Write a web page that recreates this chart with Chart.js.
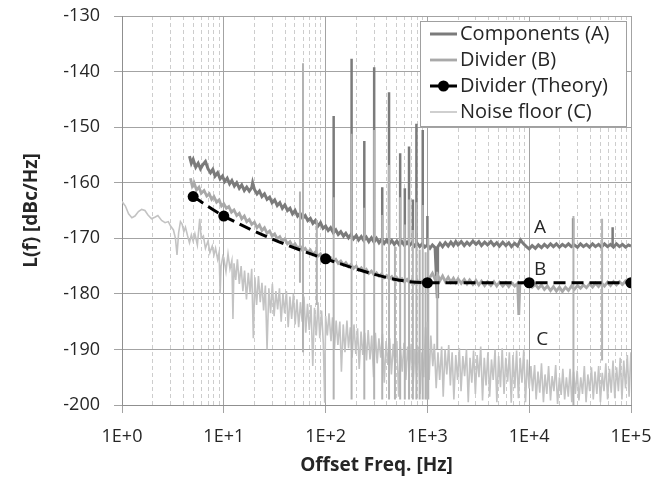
<!DOCTYPE html>
<html>
<head>
<meta charset="utf-8">
<script src="https://cdn.jsdelivr.net/npm/chart.js@4.4.1/dist/chart.umd.min.js"></script>
<style>
    body { margin: 0; background: #ffffff; }
    #wrap { width: 660px; height: 478px; }
</style>
</head>
<body>
<div id="wrap"><canvas id="bruitChart" width="660" height="478"></canvas></div>
<script>
// Graduations de l'axe des fréquences (décades)
const xDecades = [1, 10, 100, 1000, 10000, 100000];
const xTickLabels = ['1E+0', '1E+1', '1E+2', '1E+3', '1E+4', '1E+5'];
const minorSteps = [1, 2, 3, 4, 5, 6, 7, 8, 9];

// Components (A)
const freqA = [4.6, 4.8, 5.0, 5.3, 5.6, 5.9, 6.2, 6.6, 7.0, 7.4,
    7.8, 8.2, 8.7, 9.2, 9.7, 10.2, 10.8, 11.4, 12.0, 12.7,
    13.4, 14.2, 15.0, 15.9, 16.8, 17.8, 18.8, 19.2, 20.0, 21.2,
    22.4, 23.7, 25.1, 26.6, 28.2, 29.8, 31.6, 33.5, 35.5, 37.6,
    39.8, 42.2, 44.7, 47.3, 50.1, 53.1, 56.2, 59.6, 63.1, 66.8,
    70.8, 75.0, 79.4, 84.1, 89.1, 94.4, 100, 106, 112, 119,
    126, 133, 141, 150, 158, 168, 178, 188, 200, 211,
    224, 237, 251, 266, 282, 299, 316, 335, 355, 376,
    398, 422, 447, 473, 501, 531, 562, 596, 631, 668,
    708, 750, 794, 841, 891, 944, 1000, 1060, 1120, 1190,
    1250, 1260, 1330, 1410, 1500, 1600, 1700, 1800, 1900, 2000,
    2150, 2300, 2450, 2600, 2800, 3000, 3200, 3400, 3650, 3900,
    4200, 4500, 4800, 5100, 5500, 5900, 6300, 6700, 7200, 7700,
    8200, 8800, 9400, 10000, 10700, 11500, 12300, 13200, 14100, 15100,
    16200, 17300, 18500, 19800, 21200, 22700, 24300, 26000, 27800, 29800,
    31900, 34100, 36500, 39100, 41900, 44800, 48000, 51300, 54900, 58800,
    62900, 67300, 72000, 77100, 82500, 88300, 94500, 100000];
const levelA = [-155.2, -156.5, -155.8, -157.2, -156.5, -157.5, -156.8, -156.2, -157.5, -158.2,
    -157.6, -158.8, -158.2, -159.3, -158.8, -159.8, -159.2, -160.2, -159.6, -160.6,
    -160.0, -161.0, -160.4, -161.4, -160.8, -161.5, -160.9, -160.0, -161.2, -162.0,
    -161.5, -162.5, -162.0, -163.0, -162.6, -163.6, -163.1, -164.1, -163.6, -164.6,
    -164.0, -165.0, -164.6, -165.6, -165.0, -166.0, -165.5, -166.4, -165.9, -166.8,
    -166.4, -167.3, -166.8, -167.8, -167.2, -168.2, -167.8, -168.6, -168.1, -169.0,
    -168.5, -169.3, -168.8, -169.6, -169.1, -169.9, -169.3, -170.1, -169.5, -170.3,
    -169.7, -170.4, -169.8, -170.6, -169.9, -170.7, -170.0, -170.8, -170.2, -170.9,
    -170.3, -171.0, -170.4, -171.1, -170.5, -171.2, -170.6, -171.3, -170.7, -171.3,
    -170.8, -171.4, -170.9, -171.5, -171.0, -171.6, -171.2, -171.8, -171.2, -171.7,
    -180.5, -171.6, -170.9, -171.5, -170.8, -171.4, -170.7, -171.3, -170.6, -171.2,
    -170.6, -171.3, -170.7, -171.2, -170.5, -171.1, -170.6, -171.3, -170.7, -171.2,
    -170.6, -171.3, -170.8, -171.4, -170.7, -171.3, -170.8, -171.5, -170.9, -171.4,
    -170.3, -171.0, -171.5, -171.9, -171.3, -171.8, -171.2, -171.7, -171.1, -171.6,
    -171.0, -171.5, -171.0, -171.6, -171.1, -171.5, -171.0, -171.5, -171.2, -171.6,
    -171.0, -171.5, -171.1, -171.6, -171.0, -171.5, -171.1, -171.6, -171.0, -171.5,
    -171.1, -171.6, -171.0, -171.5, -171.1, -171.6, -171.2, -171.4];

// Raies secteur de la courbe A (fréquence, sommet, pied)
const spikeFreqA = [120, 180, 240, 300, 360, 420, 540, 600, 660, 720, 780, 900, 1000, 27000, 66000];
const spikeTopA = [-148, -137.7, -152.5, -139.2, -160.8, -143.7, -154.7, -161, -153.5, -163, -149.4, -150.5, -166, -166.4, -168];
const spikeFootA = [-169.2, -169.4, -169.8, -170.4, -170.3, -170.6, -170.8, -170.9, -171, -171, -171, -171.2, -171.4, -171.3, -171.4];

// Divider (B)
const freqB = [4.7, 4.9, 5.1, 5.4, 5.7, 6.0, 6.4, 6.8, 7.2, 7.6,
    8.0, 8.5, 9.0, 9.5, 10.0, 10.6, 11.2, 11.9, 12.6, 13.4,
    14.2, 15.0, 15.9, 16.8, 17.8, 18.8, 20.0, 21.2, 22.4, 23.7,
    25.1, 26.6, 28.2, 29.8, 31.6, 33.5, 35.5, 37.6, 39.8, 42.2,
    44.7, 47.3, 50.1, 53.1, 56.2, 59.6, 63.1, 66.8, 70.8, 75.0,
    79.4, 84.1, 89.1, 94.4, 100, 106, 112, 119, 126, 133,
    141, 150, 158, 168, 178, 188, 200, 211, 224, 237,
    251, 266, 282, 299, 316, 335, 355, 376, 398, 422,
    447, 473, 501, 531, 562, 596, 631, 668, 708, 750,
    794, 841, 891, 944, 1000, 1060, 1120, 1190, 1260, 1330,
    1410, 1500, 1600, 1700, 1800, 1900, 2000, 2150, 2300, 2450,
    2600, 2800, 3000, 3200, 3400, 3650, 3900, 4200, 4500, 4800,
    5100, 5500, 5900, 6300, 6700, 7200, 7700, 7900, 8100, 8800,
    9400, 10000, 10700, 11500, 12300, 13200, 14100, 15100, 16200, 17300,
    18500, 19800, 21200, 22700, 24300, 26000, 27800, 29800, 31900, 34100,
    36500, 39100, 41900, 44800, 48000, 51300, 54900, 58800, 62900, 67300,
    72000, 77100, 82500, 88300, 94500, 100000];
const levelB = [-159.2, -160.6, -160.0, -161.3, -160.8, -161.9, -161.4, -162.4, -162.0, -163.0,
    -162.5, -163.5, -163.1, -164.2, -163.8, -164.6, -164.3, -165.3, -164.9, -165.9,
    -165.5, -166.5, -166.0, -167.0, -166.6, -167.5, -167.1, -168.1, -167.6, -168.6,
    -168.1, -169.1, -168.7, -169.6, -169.2, -170.1, -169.7, -170.6, -170.1, -171.0,
    -170.6, -171.4, -171.0, -171.8, -171.4, -172.2, -171.8, -172.5, -172.1, -172.9,
    -172.5, -173.2, -172.8, -173.6, -173.2, -173.9, -173.5, -174.2, -173.8, -174.5,
    -174.1, -174.8, -174.4, -175.1, -174.7, -175.4, -175.0, -175.7, -175.3, -176.0,
    -175.6, -176.3, -175.9, -176.6, -176.2, -176.8, -176.4, -177.1, -176.7, -177.3,
    -176.9, -177.5, -177.1, -177.7, -177.3, -177.9, -177.4, -178.0, -177.5, -178.1,
    -177.6, -178.2, -177.7, -178.3, -177.8, -177.0, -176.3, -177.4, -176.6, -177.6,
    -176.8, -177.8, -177.0, -177.9, -177.2, -178.0, -177.3, -178.1, -177.4, -178.2,
    -177.5, -178.3, -177.6, -178.4, -177.7, -178.5, -177.8, -178.5, -177.8, -178.6,
    -177.9, -178.6, -178.0, -178.7, -178.0, -178.6, -178.1, -183.8, -178.2, -177.9,
    -178.5, -178.1, -178.8, -178.3, -179.0, -178.4, -179.2, -178.6, -179.4, -178.7,
    -179.5, -178.8, -179.6, -178.8, -179.4, -178.6, -179.2, -178.5, -179.0, -178.4,
    -178.9, -178.2, -178.8, -178.1, -178.7, -178.0, -178.6, -177.9, -178.5, -177.8,
    -178.4, -177.8, -178.3, -177.7, -178.2, -177.8];

// Raies claires (B et plancher) : fréquence, sommet, pied
const spikeFreqB = [56, 60, 82, 120, 180, 240, 300, 360, 420, 480, 540, 600, 660, 720, 780, 840, 900, 960, 1020, 1250, 27200, 52000];
const spikeTopB = [-161.6, -138.5, -166.7, -162.6, -151.2, -164.5, -150.5, -165.8, -156.8, -171.5, -162.6, -167.5, -163.0, -168.5, -163.5, -172.0, -164.0, -172.5, -170.0, -176.0, -166.0, -166.5];
const spikeFootB = [-178, -190.5, -182, -199, -199, -199, -199, -199, -199, -199, -199, -199, -199, -199, -199, -199, -199, -199, -199, -190, -200, -192];

// Divider (Theory)
const freqTheory = [5, 10, 100, 1000, 10000, 100000];
const levelTheory = [-162.5, -166, -173.7, -178, -178, -178];

// Noise floor (C)
const freqC = [1.00, 1.08, 1.16, 1.25, 1.34, 1.45, 1.56, 1.68, 1.80, 1.95,
    2.10, 2.25, 2.45, 2.65, 2.85, 3.00, 3.20, 3.35, 3.47, 3.60,
    3.75, 3.90, 4.05, 4.20, 4.40, 4.60, 4.80, 5.00, 5.20, 5.50,
    5.80, 6.00, 6.30, 6.60, 7.00, 7.30, 7.70, 8.00, 8.30, 8.70,
    9.00, 9.20, 9.40, 9.80,
    10.0, 10.5, 11.0, 11.5, 12.0, 12.3, 12.6, 13.1, 13.6, 14.2,
    14.8, 15.4, 16.0, 16.7, 17.4, 18.1, 18.8, 19.5, 20.2, 21.0,
    21.9, 22.8, 23.7, 24.6, 25.6, 26.6, 27.7, 28.8, 30.0, 31.2,
    32.5, 33.8, 35.2, 36.6, 38.1, 39.6, 41.2, 42.9, 44.6, 46.4,
    48.3, 50.2, 52.3, 54.4, 56.6, 58.9, 61.3, 63.8, 66.4, 69.1,
    71.9, 74.8, 77.8, 81.0, 84.3, 87.7, 91.3, 95.0, 98.0, 100,
    104, 108, 113, 117, 122, 127, 132, 138, 143, 149,
    155, 162, 168, 175, 182, 190, 198, 206, 214, 223,
    232, 242, 252, 262, 273, 284, 296, 308, 321, 334,
    348, 362, 377, 393, 409, 426, 443, 462, 481, 501,
    522, 543, 566, 589, 614, 639, 666, 693, 722, 752,
    783, 815, 849, 884, 920, 958, 990, 1000,
    1040, 1080, 1130, 1170, 1220, 1270, 1320, 1380, 1430, 1490,
    1550, 1620, 1680, 1750, 1820, 1900, 1980, 2060, 2140, 2230,
    2320, 2420, 2520, 2620, 2730, 2840, 2960, 3080, 3210, 3340,
    3480, 3620, 3770, 3930, 4090, 4260, 4430, 4620, 4810, 5010,
    5220, 5430, 5660, 5890, 6140, 6390, 6660, 6930, 7220, 7520,
    7830, 8150, 8490, 8840, 9200, 9580, 9980,
    10400, 10800, 11300, 11700, 12200, 12700, 13200, 13800, 14300, 14900,
    15500, 16200, 16800, 17500, 18200, 19000, 19800, 20600, 21400, 22300,
    23200, 24200, 25200, 26200, 27300, 28400, 29600, 30800, 32100, 33400,
    34800, 36200, 37700, 39300, 40900, 42600, 44300, 46200, 48100, 50100,
    52200, 54300, 56600, 58900, 61400, 63900, 66600, 69300, 72200, 75200,
    78300, 81500, 84900, 88400, 92000, 95800, 99800];
const levelC = [-163.4, -164.2, -165.6, -166.3, -166.0, -165.2, -164.8, -165.0, -165.8, -166.5,
    -166.2, -165.9, -166.8, -167.2, -167.0, -167.8, -168.5, -170.0, -173.0, -169.0,
    -167.0, -167.5, -168.8, -168.0, -169.5, -170.8, -169.4, -170.5, -169.2, -171.2,
    -166.5, -170.0, -169.6, -171.8, -170.5, -172.6, -171.4, -173.0, -171.8, -173.8,
    -172.5, -180.0, -175.0, -173.2,
    -173.5, -176.0, -172.8, -175.5, -174.0, -184.5, -174.5, -177.5, -173.8, -178.2,
    -175.0, -179.5, -175.8, -181.0, -176.2, -179.8, -175.5, -188.0, -177.0, -182.0,
    -176.8, -181.5, -178.0, -183.0, -178.5, -190.0, -179.0, -183.5, -178.2, -184.0,
    -179.5, -182.8, -179.0, -185.0, -180.0, -183.5, -179.5, -186.0, -180.5, -184.5,
    -180.0, -185.5, -181.0, -186.0, -181.5, -185.0, -180.5, -187.0, -181.8, -186.5,
    -182.0, -193.0, -182.5, -187.5, -181.5, -188.0, -183.0, -189.0, -199.6, -184.0,
    -187.5, -183.5, -188.5, -184.2, -190.0, -184.8, -189.2, -185.0, -194.0, -185.5,
    -190.5, -184.8, -189.8, -186.0, -191.5, -185.5, -190.8, -186.2, -193.5, -186.8,
    -191.0, -187.0, -192.0, -186.5, -191.8, -187.5, -195.0, -187.0, -192.5, -188.0,
    -191.5, -187.2, -196.0, -188.5, -192.8, -188.0, -194.5, -189.0, -193.0, -188.5,
    -198.5, -189.5, -194.0, -188.8, -195.5, -189.5, -193.8, -189.0, -197.0, -190.0,
    -194.5, -189.5, -198.0, -190.5, -195.0, -186.0, -199.0, -185.0,
    -195.5, -187.5, -193.0, -189.0, -197.0, -190.5, -195.5, -189.5, -198.5, -190.0,
    -194.5, -189.2, -196.5, -190.5, -199.0, -191.0, -195.5, -189.8, -197.5, -191.2,
    -194.8, -190.0, -199.5, -191.5, -196.0, -190.2, -198.0, -191.0, -195.0, -189.5,
    -199.2, -191.5, -196.5, -190.5, -198.5, -191.8, -195.5, -190.0, -199.5, -191.2,
    -196.8, -189.8, -198.0, -191.5, -195.8, -190.5, -199.6, -191.0, -197.0, -190.2,
    -198.8, -191.5, -196.0, -190.0, -199.5, -191.8, -197.0,
    -193.0, -197.5, -192.8, -199.0, -194.0, -197.8, -192.5, -199.5, -194.5, -198.0,
    -193.0, -199.2, -194.8, -197.5, -192.8, -199.8, -195.0, -198.2, -193.5, -199.0,
    -195.0, -198.5, -193.5, -199.5, -194.0, -198.0, -193.8, -199.2, -195.0, -198.0,
    -193.0, -199.5, -194.5, -197.5, -193.2, -199.0, -194.0, -198.0, -193.0, -199.5,
    -194.2, -197.5, -192.5, -199.0, -193.5, -197.8, -192.0, -198.8, -193.2, -197.5,
    -191.5, -199.0, -192.0, -197.0, -191.0, -198.5, -190.5];

// Couleurs
const colorA = '#7b7b7b';
const colorB = '#a9a9a9';
const colorC = '#c3c3c3';
const gridMajor = '#a3a3a3';
const gridMinor = '#cdcdcd';
const textColor = '#262626';

function toPoints(freqs, levels) {
    return freqs.map((f, i) => ({ x: f, y: levels[i] }));
}

// Chaque raie = segment vertical, séparé du suivant par un trou
function spikePoints(freqs, tops, foots) {
    const pts = [];
    freqs.forEach((f, i) => {
        pts.push({ x: f, y: foots[i] }, { x: f, y: tops[i] }, { x: f, y: null });
    });
    return pts;
}

function isDecade(value) {
    return xDecades.includes(value);
}

// Toutes les graduations 1..9 de chaque décade
const xTickValues = [];
xDecades.forEach(d => {
    minorSteps.forEach(m => {
        if (d * m <= 100000) xTickValues.push(d * m);
    });
});

// Légende et repères A/B/C dessinés dans la zone du graphique
const insideLegend = {
    id: 'insideLegend',
    afterDraw(chart) {
        const { ctx, chartArea, scales } = chart;
        ctx.save();

        // Repères des courbes
        ctx.font = '19px "Open Sans"';
        ctx.fillStyle = textColor;
        ctx.textAlign = 'center';
        ctx.textBaseline = 'middle';
        ctx.fillText('A', scales.x.getPixelForValue(12800), scales.y.getPixelForValue(-168.1));
        ctx.fillText('B', scales.x.getPixelForValue(12800), scales.y.getPixelForValue(-175.7));
        ctx.fillText('C', scales.x.getPixelForValue(13400), scales.y.getPixelForValue(-188.3));

        // Cadre
        const left = chartArea.right - 211;
        const top = chartArea.top + 5;
        ctx.fillStyle = '#ffffff';
        ctx.fillRect(left, top, 206, 105);
        ctx.strokeStyle = '#a0a0a0';
        ctx.lineWidth = 1;
        ctx.strokeRect(left + 0.5, top + 0.5, 206, 105);

        ctx.font = '20px "Open Sans"';
        const entries = [0, 1, 2, 3].map(i => chart.data.datasets[i]);
        entries.forEach((ds, row) => {
            const y = top + 13 + row * 26;
            ctx.beginPath();
            ctx.setLineDash([]);
            ctx.strokeStyle = ds.borderColor;
            ctx.lineWidth = ds.borderWidth;
            ctx.moveTo(left + 10, y);
            ctx.lineTo(left + 37, y);
            ctx.stroke();
            if (ds.pointRadius > 0) {
                ctx.beginPath();
                ctx.fillStyle = ds.pointBackgroundColor;
                ctx.arc(left + 23.5, y, ds.pointRadius, 0, Math.PI * 2);
                ctx.fill();
            }
            ctx.fillStyle = textColor;
            ctx.textAlign = 'left';
            ctx.fillText(ds.label, left + 40, y);
        });
        ctx.restore();
    }
};

const tickFont = { family: 'Open Sans', size: 18 };
const titleFont = { family: 'Open Sans', size: 19, weight: 'bold' };

new Chart(document.getElementById('bruitChart'), {
    type: 'line',
    data: {
        datasets: [
            {
                label: 'Components (A)',
                data: toPoints(freqA, levelA),
                borderColor: colorA,
                borderWidth: 3,
                pointRadius: 0,
                order: 5
            },
            {
                label: 'Divider (B)',
                data: toPoints(freqB, levelB),
                borderColor: colorB,
                borderWidth: 2.8,
                pointRadius: 0,
                order: 3
            },
            {
                label: 'Divider (Theory)',
                data: toPoints(freqTheory, levelTheory),
                borderColor: '#000000',
                borderWidth: 3,
                borderDash: [12, 6],
                pointRadius: 5.5,
                pointBackgroundColor: '#000000',
                pointBorderWidth: 0,
                cubicInterpolationMode: 'monotone',
                order: 0
            },
            {
                label: 'Noise floor (C)',
                data: toPoints(freqC, levelC),
                borderColor: colorC,
                borderWidth: 1.6,
                pointRadius: 0,
                order: 2
            },
            {
                label: 'spikes A',
                data: spikePoints(spikeFreqA, spikeTopA, spikeFootA),
                borderColor: colorA,
                borderWidth: 2.5,
                pointRadius: 0,
                spanGaps: false,
                order: 4
            },
            {
                label: 'spikes B',
                data: spikePoints(spikeFreqB, spikeTopB, spikeFootB),
                borderColor: '#b3b3b3',
                borderWidth: 2,
                pointRadius: 0,
                spanGaps: false,
                order: 1
            }
        ]
    },
    options: {
        responsive: false,
        animation: false,
        layout: { padding: { top: 16, right: 29, left: 0, bottom: 0 } },
        plugins: {
            legend: { display: false },
            tooltip: { enabled: false }
        },
        scales: {
            x: {
                type: 'logarithmic',
                min: 1,
                max: 100000,
                afterBuildTicks: (scale) => {
                    scale.ticks = xTickValues.map(v => ({ value: v }));
                },
                afterFit: (scale) => {
                    scale.height = 73;
                    scale.paddingLeft = 0;
                    scale.paddingRight = 0;
                },
                ticks: {
                    autoSkip: false,
                    maxRotation: 0,
                    padding: 13,
                    font: tickFont,
                    color: textColor,
                    callback: (value) => {
                        const i = xDecades.indexOf(value);
                        return i >= 0 ? xTickLabels[i] : '';
                    }
                },
                grid: {
                    color: (ctx) => (ctx.tick && !isDecade(ctx.tick.value)) ? gridMinor : gridMajor,
                    tickColor: (ctx) => (ctx.tick && !isDecade(ctx.tick.value)) ? 'rgba(0,0,0,0)' : gridMajor,
                    tickLength: 8
                },
                border: {
                    color: '#8f8f8f',
                    dash: (ctx) => (ctx.tick && !isDecade(ctx.tick.value)) ? [4, 3] : []
                },
                title: {
                    display: true,
                    text: 'Offset Freq. [Hz]',
                    font: titleFont,
                    color: textColor,
                    padding: { top: 0, bottom: 1 }
                }
            },
            y: {
                min: -200,
                max: -130,
                afterFit: (scale) => {
                    scale.width = 122;
                    scale.paddingTop = 0;
                    scale.paddingBottom = 0;
                },
                ticks: {
                    stepSize: 10,
                    padding: 14,
                    font: tickFont,
                    color: textColor
                },
                grid: {
                    color: gridMajor,
                    tickLength: 8
                },
                border: { color: '#8f8f8f' },
                title: {
                    display: true,
                    text: 'L(f) [dBc/Hz]',
                    font: titleFont,
                    color: textColor,
                    padding: { top: 20, bottom: 0 }
                }
            }
        }
    },
    plugins: [insideLegend]
});
</script>
</body>
</html>
